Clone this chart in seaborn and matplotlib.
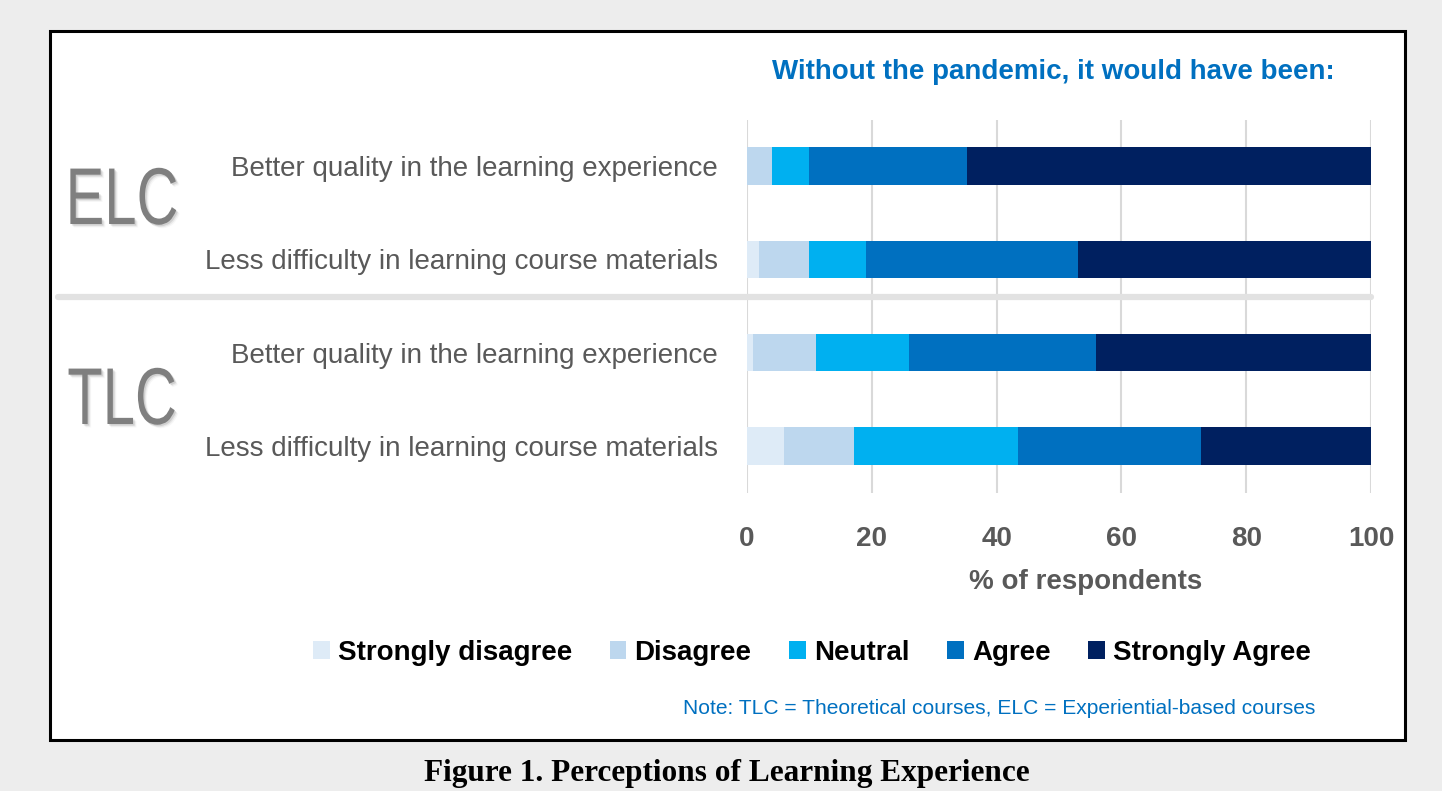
import matplotlib
matplotlib.use("Agg")
import matplotlib.pyplot as plt
import matplotlib.patheffects as pe
from matplotlib.patches import Rectangle, Patch
from matplotlib.lines import Line2D
from matplotlib.transforms import Affine2D
import seaborn as sns
import pandas as pd
import numpy as np

# ---------------- data ----------------
groups = ["ELC", "ELC", "TLC", "TLC"]
questions = ["Better quality in the learning experience",
             "Less difficulty in learning course materials",
             "Better quality in the learning experience",
             "Less difficulty in learning course materials"]
levels = ["Strongly disagree", "Disagree", "Neutral", "Agree", "Strongly Agree"]
strongly_disagree = [0.0, 2.0, 1.0, 5.9]
disagree = [4.0, 8.0, 10.0, 11.3]
neutral = [6.0, 9.0, 15.0, 26.2]
agree = [25.3, 34.0, 30.0, 29.3]
strongly_agree = [64.7, 47.0, 44.0, 27.3]
colors = ["#DEEBF7", "#BDD7EE", "#00B0F0", "#0070C0", "#002060"]
x_ticks = [0, 20, 40, 60, 80, 100]

title = "Without the pandemic, it would have been:"
xlabel = "% of respondents"
note = "Note: TLC = Theoretical courses, ELC = Experiential-based courses"
caption = "Figure 1. Perceptions of Learning Experience"

# ---------------- figure ----------------
sns.set_theme(style="white")
plt.rcParams["font.family"] = ["Liberation Sans", "DejaVu Sans"]

W, H = 1442, 791
fig = plt.figure(figsize=(W / 100, H / 100), dpi=100)
fig.patch.set_facecolor("#EDEDED")


def fx(px):
    return px / W


def fy(py):
    return 1 - py / H


class CondensedShadow(pe.AbstractPathEffect):
    """Horizontally condense glyphs about a centre and add a faint drop shadow."""

    def __init__(self, sx, cx, shadow="#000000", alpha=0.10):
        super().__init__()
        self.sx = sx
        self.cx = cx
        self.shadow = shadow
        self.alpha = alpha

    def draw_path(self, renderer, gc, tpath, affine, rgbFace=None):
        cond = affine + Affine2D().translate(-self.cx, 0).scale(self.sx, 1).translate(self.cx, 0)
        gc0 = renderer.new_gc()
        gc0.copy_properties(gc)
        gc0.set_linewidth(0)
        for (dx, dy), a in [((1.5, -1.5), 1.0), ((2.5, -2.5), 0.6), ((3.5, -3.5), 0.3)]:
            gc0.set_alpha(self.alpha * a)
            renderer.draw_path(gc0, tpath, cond + Affine2D().translate(dx, dy),
                               matplotlib.colors.to_rgba(self.shadow))
        gc0.restore()
        renderer.draw_path(gc, tpath, cond, rgbFace)


# white framed box
fig.add_artist(Rectangle((fx(50), fy(740)), fx(1405) - fx(50), fy(31) - fy(740),
                         transform=fig.transFigure, facecolor="white",
                         edgecolor="black", linewidth=2.2, zorder=0))

ax = fig.add_axes([fx(747), fy(492.5), fx(1371) - fx(747), (492.5 - 119.5) / H])
ax.set_facecolor("none")

rows = [g + " | " + q for g, q in zip(groups, questions)]
df = pd.DataFrame({"row": rows})
series = [strongly_disagree, disagree, neutral, agree, strongly_agree]
cum = np.cumsum(np.array(series), axis=0)
for i, lev in enumerate(levels):
    df[lev] = cum[i]

for i in range(len(levels) - 1, -1, -1):
    sns.barplot(data=df, x=levels[i], y="row", order=rows, orient="h",
                color=colors[i], saturation=1, width=0.4, errorbar=None,
                linewidth=0, ax=ax, zorder=3)

ax.set_xlim(0, 100)
ax.set_ylim(3.5, -0.5)
ax.set_xticks(x_ticks)
ax.set_xticklabels([str(t) for t in x_ticks], fontsize=20, fontweight="bold",
                   color="#595959")
ax.set_yticks(range(len(rows)))
ax.set_yticklabels(questions, fontsize=20, color="#595959")
ax.tick_params(axis="y", length=0, pad=21)
ax.tick_params(axis="x", length=0, pad=24)
ax.grid(axis="x", color="#D9D9D9", linewidth=1.5, zorder=0)
ax.grid(axis="y", visible=False)
for s in ax.spines.values():
    s.set_visible(False)
ax.set_ylabel("")
ax.set_xlabel(xlabel, fontsize=20, fontweight="bold", color="#595959")
ax.xaxis.set_label_coords((1086 - 747) / 624, -(582 - 492.5) / 373)
ax.xaxis.label.set_va("center")

# separator line between groups
fig.add_artist(Line2D([fx(58), fx(1371)], [fy(297), fy(297)],
                      transform=fig.transFigure, color="#E2E2E2",
                      linewidth=4.5, zorder=1))

# group labels (condensed, with faint shadow)
for g, ybase in [("ELC", 224), ("TLC", 424)]:
    fig.text(fx(122), fy(ybase), g, fontsize=58, color="#7F7F7F", ha="center",
             va="baseline", path_effects=[CondensedShadow(0.72, 122)])

# title
fig.text(fx(1053), fy(72), title, fontsize=20, fontweight="bold",
         color="#0070C0", ha="center", va="center")

# legend
handles = [Patch(facecolor=c, edgecolor="none") for c in colors]
leg = fig.legend(handles, levels, loc="center", bbox_to_anchor=(fx(812), fy(653)),
                 ncol=5, frameon=False, handlelength=0.6, handleheight=0.6,
                 handletextpad=0.3, columnspacing=1.35,
                 prop={"size": 20, "weight": "bold"})
for t in leg.get_texts():
    t.set_color("black")

# note
fig.text(fx(1315), fy(708), note, fontsize=15.1, color="#0070C0",
         ha="right", va="center")

# caption
fig.text(fx(727), fy(781), caption, fontsize=22.5, fontweight="bold",
         family=["Liberation Serif", "DejaVu Serif"], color="black",
         ha="center", va="baseline")

fig.savefig("out.png", dpi=100, facecolor=fig.get_facecolor())
